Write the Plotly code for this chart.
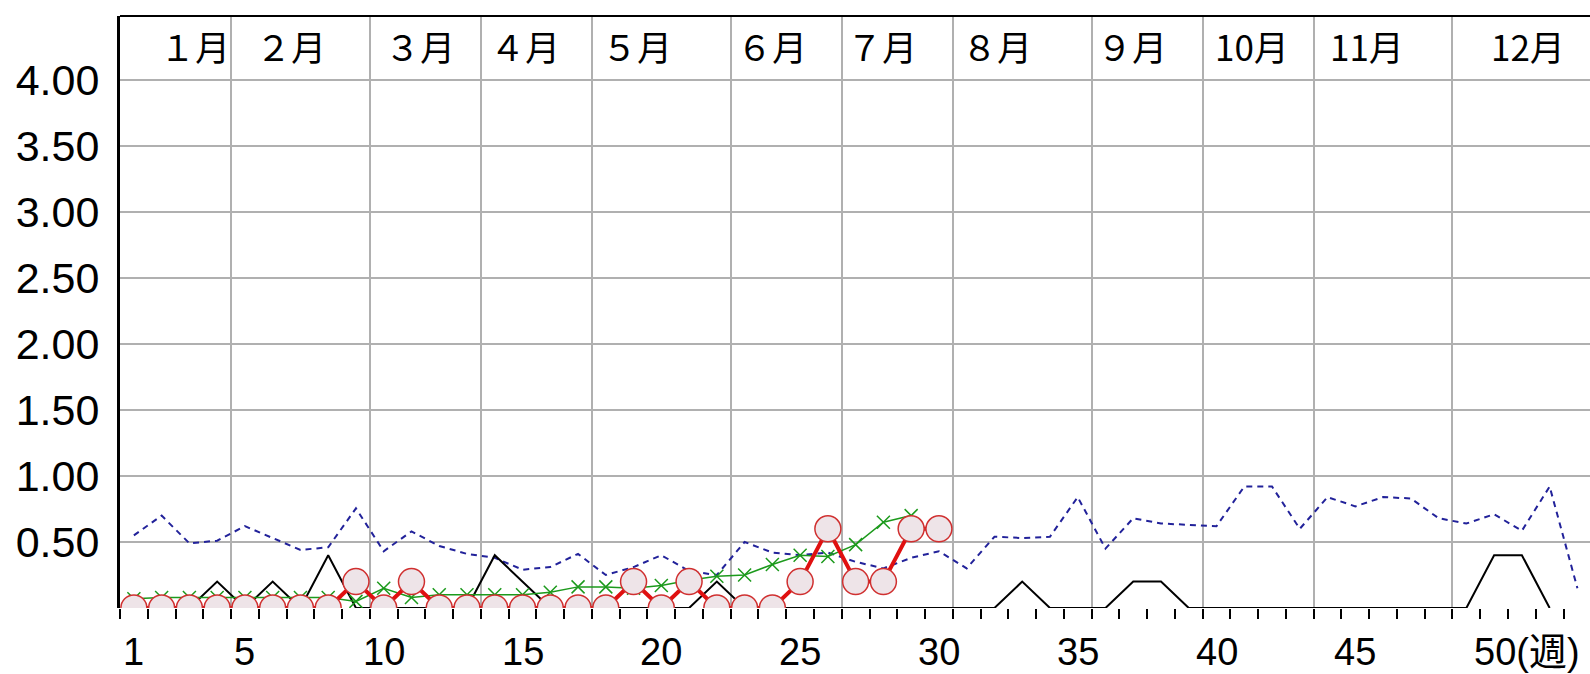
import plotly.graph_objects as go

# ---------------- data ----------------
weeks_avg = list(range(1, 54))
past_avg = [0.55, 0.70, 0.49, 0.51, 0.62, 0.53, 0.44, 0.46, 0.755, 0.43,
            0.58, 0.47, 0.41, 0.38, 0.29, 0.31, 0.41, 0.25, 0.31, 0.40,
            0.28, 0.25, 0.50, 0.42, 0.40, 0.42, 0.35, 0.30, 0.38, 0.43,
            0.30, 0.54, 0.53, 0.54, 0.84, 0.45, 0.68, 0.64, 0.63, 0.62,
            0.92, 0.92, 0.60, 0.84, 0.77, 0.84, 0.83, 0.68, 0.64, 0.71,
            0.585, 0.92, 0.15]

weeks_prev = list(range(1, 53))
prev_year = [0, 0, 0, 0.2, 0, 0.2, 0, 0.4, 0, 0,
             0, 0, 0, 0.4, 0.2, 0, 0, 0, 0, 0,
             0, 0.2, 0, 0, 0, 0, 0, 0, 0, 0,
             0, 0, 0.2, 0, 0, 0, 0.2, 0.2, 0, 0,
             0, 0, 0, 0, 0, 0, 0, 0, 0, 0.4,
             0.4, 0]

weeks_green = list(range(1, 30))
green_vals = [0.07, 0.08, 0.08, 0.08, 0.08, 0.08, 0.08, 0.08, 0.05, 0.15,
              0.08, 0.10, 0.10, 0.10, 0.10, 0.12, 0.16, 0.16, 0.15, 0.17,
              0.21, 0.24, 0.25, 0.33, 0.40, 0.39, 0.48, 0.65, 0.70]

weeks_cur = list(range(1, 31))
this_year = [0, 0, 0, 0, 0, 0, 0, 0, 0.2, 0,
             0.2, 0, 0, 0, 0, 0, 0, 0, 0.2, 0,
             0.2, 0, 0, 0, 0.2, 0.6, 0.2, 0.2, 0.6, 0.6]

y_ticks = [0.5, 1.0, 1.5, 2.0, 2.5, 3.0, 3.5, 4.0]
y_ticktext = ["0.50", "1.00", "1.50", "2.00", "2.50", "3.00", "3.50", "4.00"]
x_label_weeks = [1, 5, 10, 15, 20, 25, 30, 35, 40, 45]
x_label_text = ["1", "5", "10", "15", "20", "25", "30", "35", "40", "45"]
last_label = "50(週)"
month_names = ["１月", "２月", "３月", "４月", "５月", "６月", "７月", "８月", "９月", "10月", "11月", "12月"]
month_boundaries = [4.5, 9.5, 13.5, 17.5, 22.5, 26.5, 30.5, 35.5, 39.5, 43.5, 48.5]

# ---------------- layout constants ----------------
W, H = 1590, 674
L, R, T, B = 120, 0, 16, 66
PW = W - L - R
PH = H - T - B
XR = [0.5, 0.5 + PW / 27.76]
YR = [0, 4.485]
NUM_FONT = "Liberation Sans, Arial, sans-serif"
JP_FONT = "Noto Sans CJK JP, sans-serif"
month_centers_px = [195, 291, 420, 525, 637, 772, 882, 997, 1132, 1252, 1367, 1528]
xlab_y = -(652 - (H - B)) / PH
week_boundaries = [k + 0.5 for k in range(0, 54)]

fig = go.Figure()

fig.add_trace(go.Scatter(
    x=weeks_avg, y=past_avg, mode="lines",
    line=dict(color="#22229a", width=2, dash="6px,5px"),
    showlegend=False, hoverinfo="skip"))

fig.add_trace(go.Scatter(
    x=weeks_prev, y=prev_year, mode="lines",
    line=dict(color="black", width=2),
    showlegend=False, hoverinfo="skip"))

fig.add_trace(go.Scatter(
    x=weeks_green, y=green_vals, mode="lines+markers",
    line=dict(color="#1c9a1c", width=1.5),
    marker=dict(symbol="x-thin", size=13, line=dict(color="#1c9a1c", width=1.5)),
    showlegend=False, hoverinfo="skip"))

fig.add_trace(go.Scatter(
    x=weeks_cur, y=this_year, mode="lines+markers",
    line=dict(color="#e01010", width=4),
    marker=dict(symbol="circle", size=26, color="#eee4e8",
                line=dict(color="#d03030", width=1.5)),
    showlegend=False, hoverinfo="skip"))

annotations = []
for w, t in zip(x_label_weeks, x_label_text):
    annotations.append(dict(x=w, y=xlab_y, xref="x", yref="paper", text=t,
                            showarrow=False, xanchor="center", yanchor="middle",
                            font=dict(family=NUM_FONT, size=38, color="black")))
annotations.append(dict(x=(1472 - L) / PW, y=xlab_y, xref="paper", yref="paper",
                        text=last_label, showarrow=False, xanchor="left", yanchor="middle",
                        font=dict(family="Liberation Sans, Noto Sans CJK JP, sans-serif",
                                  size=38, color="black")))
for name, px in zip(month_names, month_centers_px):
    annotations.append(dict(x=(px - L) / PW, y=1 - (45 - T) / PH, xref="paper", yref="paper",
                            text=name, showarrow=False, xanchor="center", yanchor="middle",
                            font=dict(family=JP_FONT, size=35, color="black")))

fig.update_layout(
    width=W, height=H,
    margin=dict(l=L, r=R, t=T, b=B, autoexpand=False),
    paper_bgcolor="white", plot_bgcolor="white",
    showlegend=False,
    xaxis=dict(range=XR, tickmode="array", tickvals=month_boundaries, automargin=False,
               showgrid=True, gridcolor="#b0b0b0", gridwidth=1.5,
               showticklabels=False, ticks="outside", ticklen=10, tickwidth=2,
               tickcolor="black", zeroline=False, showline=False,
               minor=dict(tickmode="array", tickvals=week_boundaries, ticks="outside",
                          ticklen=10, tickwidth=2, tickcolor="black", showgrid=False)),
    yaxis=dict(range=YR, tickmode="array", tickvals=y_ticks, ticktext=y_ticktext,
               automargin=False,
               showgrid=True, gridcolor="#b0b0b0", gridwidth=1.5,
               zeroline=False, showline=True, linecolor="black", linewidth=3,
               ticks="", ticklabelstandoff=9,
               tickfont=dict(family=NUM_FONT, size=43, color="black")),
    annotations=annotations,
    shapes=[dict(type="line", xref="paper", yref="paper", x0=0, x1=1, y0=1, y1=1,
                 line=dict(color="black", width=2))],
)

fig.write_html(
    "out.html",
    config={"displayModeBar": False},
    post_script="document.body.style.margin='0';document.body.style.overflow='hidden';",
)
